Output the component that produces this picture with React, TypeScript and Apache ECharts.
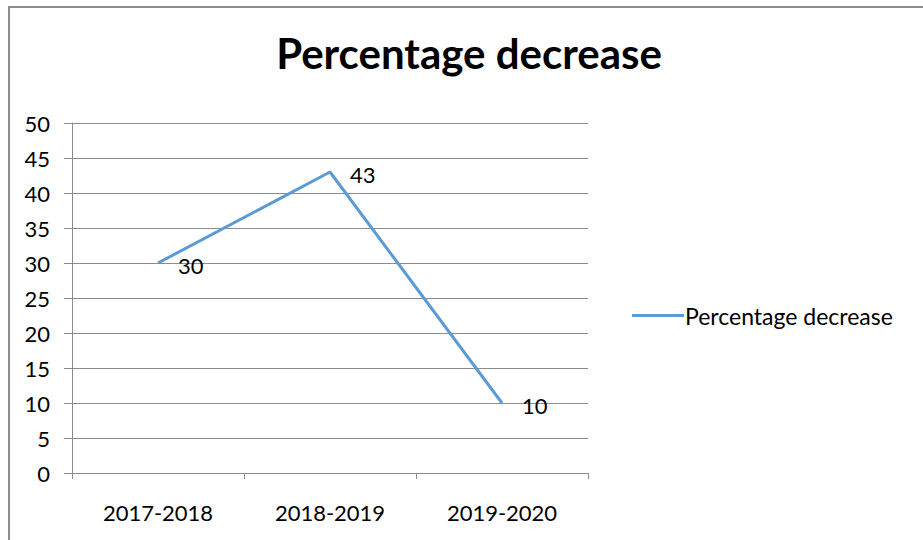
import React, { useEffect, useRef } from "react";
import * as echarts from "echarts";

const categories = ["2017-2018", "2018-2019", "2019-2020"];
const values = [30, 43, 10];
const seriesName = "Percentage decrease";
const titleText = "Percentage decrease";

const FONT = "Lato, 'Noto Sans', sans-serif";

export default function App() {
  const ref = useRef<HTMLDivElement>(null);
  useEffect(() => {
    document.body.style.margin = "0";
    const chart = echarts.init(ref.current!, null, { renderer: "svg" });
    chart.setOption({
      animation: false,
      backgroundColor: "#ffffff",
      textStyle: { fontFamily: FONT },
      title: {
        text: titleText,
        left: 464,
        textAlign: "center",
        top: 27,
        textStyle: { fontSize: 42, fontWeight: "bold", color: "#000", fontFamily: FONT },
      },
      graphic: [
        {
          type: "rect",
          shape: { x: 9, y: 7, width: 1000, height: 600 },
          style: { fill: "none", stroke: "#8c8c8c", lineWidth: 2 },
          silent: true,
        },
      ],
      legend: {
        left: 627,
        top: 299,
        itemWidth: 52,
        itemHeight: 3,
        itemGap: 10,
        icon: "rect",
        data: [seriesName],
        textStyle: { fontSize: 23, color: "#000", fontFamily: FONT, padding: [0, 0, 0, -4] },
      },
      grid: { left: 72, right: 335, top: 123, bottom: 67 },
      xAxis: {
        type: "category",
        data: categories,
        boundaryGap: true,
        axisLine: { lineStyle: { color: "#8c8c8c", width: 1 } },
        axisTick: { show: true, length: 6, lineStyle: { color: "#8c8c8c" } },
        axisLabel: { fontSize: 22, color: "#000", margin: 28, fontFamily: FONT },
      },
      yAxis: {
        type: "value",
        min: 0,
        max: 50,
        interval: 5,
        axisLine: { show: true, lineStyle: { color: "#8c8c8c" } },
        axisTick: { show: true, length: 8, lineStyle: { color: "#8c8c8c" } },
        splitLine: { lineStyle: { color: "#8c8c8c", width: 1 } },
        axisLabel: { fontSize: 22, color: "#000", margin: 22, fontFamily: FONT },
      },
      series: [
        {
          name: seriesName,
          type: "line",
          data: values,
          symbol: "circle",
          symbolSize: 0.01,
          showSymbol: true,
          lineStyle: { color: "#5b9bd5", width: 3 },
          itemStyle: { color: "#5b9bd5" },
          label: {
            show: true,
            position: "right",
            distance: 20,
            offset: [0, 2],
            fontSize: 22,
            color: "#000",
            fontFamily: FONT,
          },
        },
      ],
    });
    return () => chart.dispose();
  }, []);
  return <div ref={ref} style={{ width: 923, height: 540 }} />;
}
